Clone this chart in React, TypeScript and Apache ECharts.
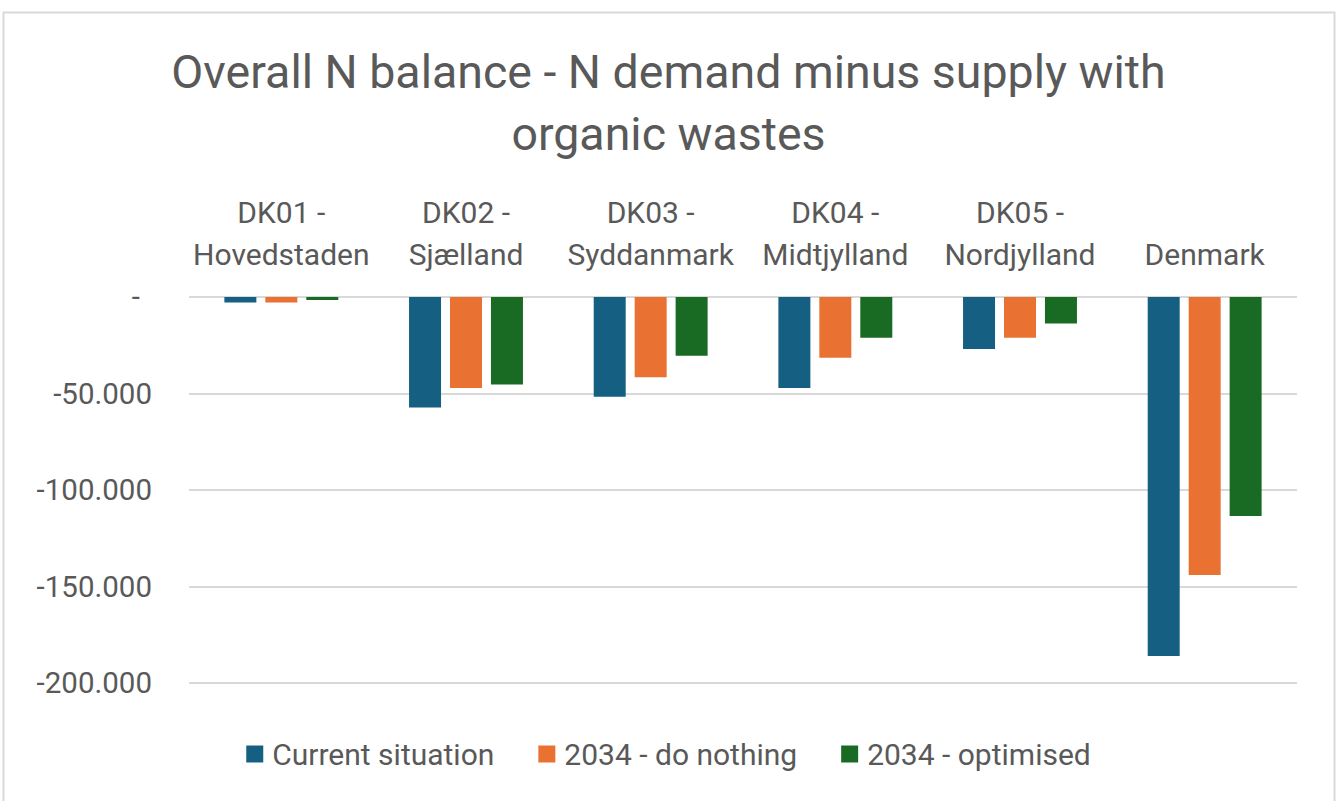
import React, { useEffect, useRef } from "react";
import * as echarts from "echarts";

const categories = [
  "DK01 -\nHovedstaden",
  "DK02 -\nSjælland",
  "DK03 -\nSyddanmark",
  "DK04 -\nMidtjylland",
  "DK05 -\nNordjylland",
  "Denmark",
];
const seriesNames = ["Current situation", "2034 - do nothing", "2034 - optimised"];
const currentSituation = [-2900, -57200, -51700, -47100, -26900, -186000];
const doNothing2034 = [-2800, -47100, -41600, -31500, -21100, -144000];
const optimised2034 = [-1600, -45300, -30500, -21100, -13700, -113500];
const colors = ["#156082", "#E97132", "#196B24"];
const titleText = "Overall N balance - N demand minus supply with\norganic wastes";

const FONT = "Roboto";
const TXT = "#595959";

export default function App() {
  const ref = useRef<HTMLDivElement>(null);
  useEffect(() => {
    if (!ref.current) return;
    const chart = echarts.init(ref.current, undefined, { renderer: "svg" });
    const values = [currentSituation, doNothing2034, optimised2034];
    chart.setOption({
      animation: false,
      backgroundColor: "#ffffff",
      textStyle: { fontFamily: FONT },
      title: {
        text: titleText,
        left: "center",
        top: 36,
        textStyle: {
          fontFamily: FONT,
          fontSize: 46.5,
          fontWeight: "normal",
          color: TXT,
          lineHeight: 62,
        },
      },
      graphic: [
        {
          type: "rect",
          shape: { x: 3.5, y: 12.5, width: 1331, height: 800 },
          style: { fill: "none", stroke: "#d9d9d9", lineWidth: 2 },
          silent: true,
        },
      ],
      legend: {
        bottom: 27,
        left: "center",
        itemWidth: 17,
        itemHeight: 17,
        itemGap: 44,
        icon: "rect",
        textStyle: {
          fontFamily: FONT,
          fontSize: 30,
          color: TXT,
          padding: [0, 0, 0, 4],
        },
        data: seriesNames,
      },
      grid: { left: 189, right: 40, top: 297, height: 386, containLabel: false },
      xAxis: {
        type: "category",
        position: "top",
        data: categories,
        axisLine: { show: false },
        axisTick: { show: false },
        axisLabel: {
          fontFamily: FONT,
          fontSize: 30,
          color: TXT,
          lineHeight: 42,
          margin: 22,
          interval: 0,
        },
      },
      yAxis: {
        type: "value",
        min: -200000,
        max: 0,
        interval: 50000,
        axisLine: { show: false },
        axisTick: { show: false },
        splitLine: { lineStyle: { color: "#d9d9d9", width: 2 } },
        axisLabel: {
          fontFamily: FONT,
          fontSize: 29.5,
          color: TXT,
          margin: 37,
          formatter: (v: number) => {
            if (v === 0) return "{z|-}";
            const s = Math.abs(v)
              .toString()
              .replace(/\B(?=(\d{3})+(?!\d))/g, ".");
            return "-" + s;
          },
          rich: {
            z: { fontFamily: FONT, fontSize: 29.5, color: TXT, padding: [0, 12, 0, 0] },
          },
        },
      },
      series: seriesNames.map((name, i) => ({
        name,
        type: "bar",
        data: values[i],
        barWidth: 32,
        barGap: "28%",
        itemStyle: { color: colors[i] },
      })),
    });
    return () => chart.dispose();
  }, []);
  return (
    <div
      ref={ref}
      style={{ position: "absolute", left: 0, top: 0, width: 1337, height: 801 }}
    />
  );
}
